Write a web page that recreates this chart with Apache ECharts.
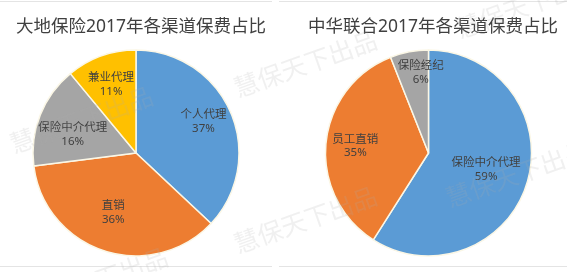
<!DOCTYPE html>
<html>
<head>
<meta charset="utf-8">
<script src="https://cdn.jsdelivr.net/npm/echarts@6/dist/echarts.min.js"></script>
<style>html,body{margin:0;padding:0;background:#fff}#c{width:567px;height:272px}</style>
</head>
<body>
<div id="c"></div>
<script>
const leftTitle = '大地保险2017年各渠道保费占比';
const leftNames = ['个人代理', '直销', '保险中介代理', '兼业代理'];
const leftValues = [37, 36, 16, 11];
const rightTitle = '中华联合2017年各渠道保费占比';
const rightNames = ['保险中介代理', '员工直销', '保险经纪'];
const rightValues = [59, 35, 6];
const watermark = '慧保天下出品';

// label fine-tuning (style only)
const leftLabelNudge = [[0, -2], [0, -10], [5, 9], [0, 1]];
const rightLabelNudge = [[-13, -4], [0, 0], [6, -8]];

const BLUE = '#5B9BD5', ORANGE = '#ED7D31', GRAY = '#A5A5A5', YELLOW = '#FFC000';
const leftColors = [BLUE, ORANGE, GRAY, YELLOW];
const rightColors = [BLUE, ORANGE, GRAY];
const FONT = '"Noto Sans", "Noto Sans CJK SC", sans-serif';
const R = 103;

function pieSeries(names, values, colors, nudges, cx) {
  const data = names.map((n, i) => ({ name: n, value: values[i], itemStyle: { color: colors[i] } }));
  return [
    {
      type: 'pie', center: [cx, 153], radius: [0, R], startAngle: 90, clockwise: true,
      silent: true, label: { show: false }, labelLine: { show: false },
      itemStyle: { borderColor: '#FBF7E6', borderWidth: 1.5 },
      data: data, z: 2
    },
    {
      type: 'pie', center: [cx, 153], radius: [38, R], startAngle: 90, clockwise: true,
      silent: true,
      itemStyle: { color: 'rgba(0,0,0,0)', borderWidth: 0 },
      label: { show: true, position: 'inside', formatter: '{b}\n{c}%', color: '#404040',
               fontSize: 11.5, lineHeight: 13.5, fontFamily: FONT },
      labelLine: { show: false },
      data: names.map((n, i) => ({ name: n, value: values[i], label: { offset: nudges[i] } })), z: 3
    }
  ];
}

const wmPositions = [[82, 122], [306, 66], [306, 222], [97, 283], [528, 7], [518, 176]];

const chart = echarts.init(document.getElementById('c'), null, { renderer: 'canvas' });
chart.setOption({
  backgroundColor: '#fff',
  animation: false,
  title: [
    { text: leftTitle, left: 136, top: 22, textAlign: 'center', textVerticalAlign: 'middle',
      textStyle: { fontFamily: FONT, fontSize: 17.5, fontWeight: 'normal', color: '#404040' } },
    { text: rightTitle, left: 428, top: 22, textAlign: 'center', textVerticalAlign: 'middle',
      textStyle: { fontFamily: FONT, fontSize: 17.5, fontWeight: 'normal', color: '#404040' } }
  ],
  series: [].concat(pieSeries(leftNames, leftValues, leftColors, leftLabelNudge, 136),
                    pieSeries(rightNames, rightValues, rightColors, rightLabelNudge, 428.5)),
  graphic: [
    { type: 'line', shape: { x1: 0, y1: 1.5, x2: 272, y2: 1.5 }, style: { stroke: '#e4e4e4', lineWidth: 1 }, z: 1 },
    { type: 'line', shape: { x1: 279, y1: 1.5, x2: 567, y2: 1.5 }, style: { stroke: '#e4e4e4', lineWidth: 1 }, z: 1 },
    { type: 'line', shape: { x1: 0, y1: 266.5, x2: 272, y2: 266.5 }, style: { stroke: '#e4e4e4', lineWidth: 1 }, z: 1 },
    { type: 'line', shape: { x1: 279, y1: 266.5, x2: 567, y2: 266.5 }, style: { stroke: '#e4e4e4', lineWidth: 1 }, z: 1 }
  ].concat(wmPositions.map(p => ({
    type: 'text', x: p[0], y: p[1], rotation: 0.34, silent: true, z: 100,
    style: { text: watermark, fontSize: 25, fontFamily: FONT, fill: 'rgba(170,170,170,0.18)',
             align: 'center', verticalAlign: 'middle' }
  })))
});
</script>
</body>
</html>
